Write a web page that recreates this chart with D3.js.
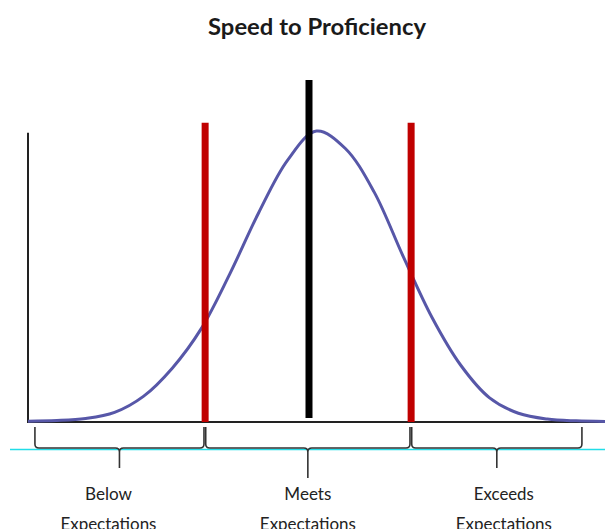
<!DOCTYPE html>
<html>
<head>
<meta charset="utf-8">
<script src="https://cdn.jsdelivr.net/npm/d3@7"></script>
<style>
  body { margin: 0; background: #fff; }
  svg { display: block; }
</style>
</head>
<body>
<div id="chart"></div>
<script>
// Speed to Proficiency - bell curve with cutoffs
var curveX = [0, 5, 10, 15, 20, 25, 30, 35, 40, 45, 50, 55, 60, 65, 70, 75, 80, 85, 90, 95, 100];
var curveY = [0.3, 0.5, 1.2, 3.3, 8.8, 18.5, 32, 51, 72, 90, 100, 94, 79, 57, 36, 19.5, 8.3, 3, 1, 0.4, 0.2];

var cutoffs = [30.7, 66.4];
var meanX = 48.7;

var categories = ["Below", "Meets", "Exceeds"];
var catStart = [1.2, 30.8, 66.5];
var catEnd = [30.5, 66.2, 96.0];

var svgWidth = 605;
var svgHeight = 529;

var svg = d3.select("#chart")
  .append("svg")
  .attr("width", svgWidth)
  .attr("height", svgHeight);

var xScale = d3.scaleLinear().domain([0, 100]).range([28, 605]);
var yScale = d3.scaleLinear().domain([0, 100]).range([422, 131]);

var curveData = curveX.map((x, i) => ({x: x, y: curveY[i]}));

// title
svg.append("text")
  .attr("x", 317)
  .attr("y", 35)
  .attr("text-anchor", "middle")
  .attr("textLength", 218)
  .attr("lengthAdjust", "spacingAndGlyphs")
  .style("font-family", "Lato, 'Open Sans', sans-serif")
  .style("font-weight", "bold")
  .style("font-size", "22px")
  .style("fill", "#1a1a1a")
  .text("Speed to Proficiency");

// axes (plain lines, no ticks)
svg.append("line")
  .attr("x1", xScale(0)).attr("x2", xScale(0))
  .attr("y1", yScale(0) + 1).attr("y2", yScale(99.4))
  .attr("stroke", "#222").attr("stroke-width", 2);

svg.append("line")
  .attr("x1", xScale(0) - 1).attr("x2", xScale(100))
  .attr("y1", yScale(0)).attr("y2", yScale(0))
  .attr("stroke", "#222").attr("stroke-width", 2);

// bell curve
var line = d3.line()
  .x(d => xScale(d.x))
  .y(d => yScale(d.y))
  .curve(d3.curveCatmullRom.alpha(0.5));

svg.append("path")
  .datum(curveData)
  .attr("d", line)
  .attr("fill", "none")
  .attr("stroke", "#5757a8")
  .attr("stroke-width", 3);

// red cutoff lines
svg.selectAll(".cutoff")
  .data(cutoffs)
  .join("line")
  .attr("class", "cutoff")
  .attr("x1", d => xScale(d)).attr("x2", d => xScale(d))
  .attr("y1", yScale(0)).attr("y2", yScale(102.8))
  .attr("stroke", "#c00000")
  .attr("stroke-width", 7);

// black mean line
svg.append("line")
  .attr("x1", xScale(meanX)).attr("x2", xScale(meanX))
  .attr("y1", yScale(1.4)).attr("y2", yScale(117.5))
  .attr("stroke", "#000")
  .attr("stroke-width", 7);

// cyan baseline under the braces
var braceY = 448;
svg.append("line")
  .attr("x1", 10).attr("x2", 605)
  .attr("y1", 449.5).attr("y2", 449.5)
  .attr("stroke", "#22dde8")
  .attr("stroke-width", 1.6);

// curly braces
function bracePath(x0, x1, top, mid, tip) {
  var r = 4;
  var xm = (x0 + x1) / 2;
  return "M" + x0 + "," + top +
    " L" + x0 + "," + (mid - r) +
    " Q" + x0 + "," + mid + " " + (x0 + r) + "," + mid +
    " L" + (xm - r) + "," + mid +
    " Q" + xm + "," + mid + " " + xm + "," + (mid + r) +
    " L" + xm + "," + tip +
    " M" + xm + "," + (mid + r) +
    " Q" + xm + "," + mid + " " + (xm + r) + "," + mid +
    " L" + (x1 - r) + "," + mid +
    " Q" + x1 + "," + mid + " " + x1 + "," + (mid - r) +
    " L" + x1 + "," + top;
}

var tipDepth = [468, 478, 468];

svg.selectAll(".brace")
  .data(categories)
  .join("path")
  .attr("class", "brace")
  .attr("d", (d, i) => bracePath(xScale(catStart[i]), xScale(catEnd[i]), 427, braceY, tipDepth[i]))
  .attr("fill", "none")
  .attr("stroke", "#333")
  .attr("stroke-width", 1.6);

// labels
var labelShift = [-11, 0, 7];
var wordWidth = [47, 47, 60];

var labels = svg.selectAll(".label")
  .data(categories)
  .join("g")
  .attr("class", "label")
  .attr("transform", (d, i) => `translate(${(xScale(catStart[i]) + xScale(catEnd[i])) / 2 + labelShift[i]}, 0)`);

labels.append("text")
  .attr("y", 500)
  .attr("text-anchor", "middle")
  .attr("textLength", (d, i) => wordWidth[i])
  .attr("lengthAdjust", "spacingAndGlyphs")
  .style("font-family", "Lato, 'Open Sans', sans-serif")
  .style("font-size", "17px")
  .style("fill", "#222")
  .text(d => d);

labels.append("text")
  .attr("y", 530)
  .attr("text-anchor", "middle")
  .attr("textLength", 96)
  .attr("lengthAdjust", "spacingAndGlyphs")
  .style("font-family", "Lato, 'Open Sans', sans-serif")
  .style("font-size", "17px")
  .style("fill", "#222")
  .text("Expectations");
</script>
</body>
</html>
